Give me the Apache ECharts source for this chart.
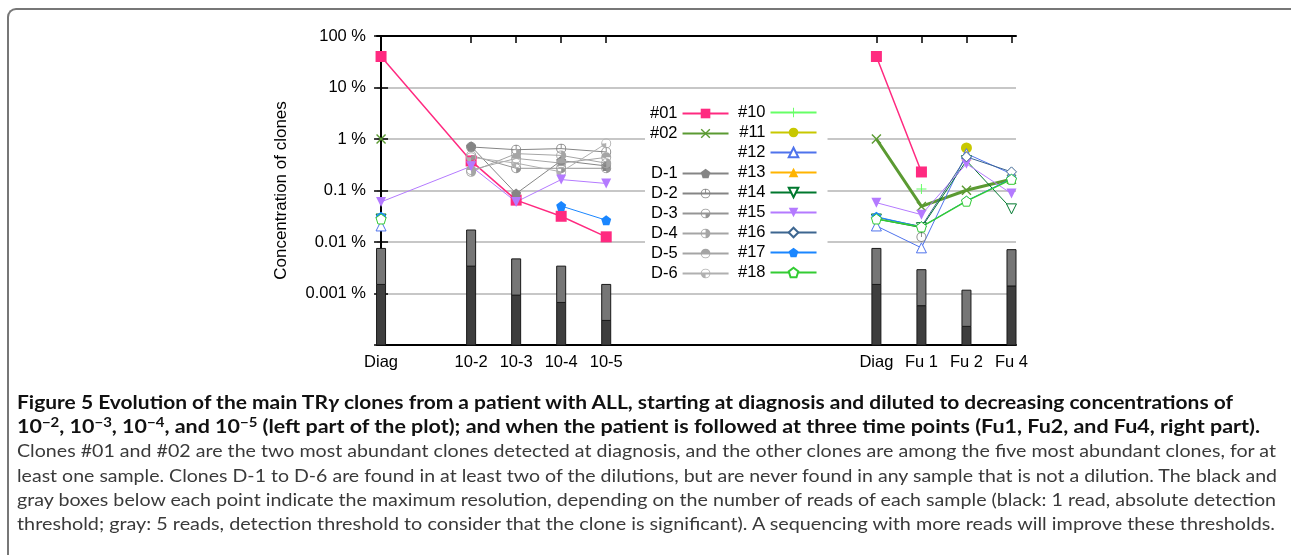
<!DOCTYPE html>
<html>
<head>
<meta charset="utf-8">
<script src="https://cdn.jsdelivr.net/npm/echarts@6/dist/echarts.min.js"></script>
<style>
  html, body { margin:0; padding:0; background:#fff; }
  #wrap { position:relative; width:1291px; height:555px; overflow:hidden; }
  #chart { position:absolute; left:0; top:0; width:1291px; height:555px; }
  #frame { position:absolute; left:7px; top:8px; width:1300px; height:600px;
           border-left:2px solid #777; border-top:2px solid #777; border-top-left-radius:9px; pointer-events:none; }
  .ln { position:absolute; left:17px; white-space:nowrap; font-family:'Lato','Noto Sans',sans-serif;
        font-size:18px; line-height:24px; transform-origin:0 50%; }
  .b { font-weight:bold; color:#111; }
  .r { color:#3a3a3a; }
  sup { font-size:70%; vertical-align:0.45em; line-height:0; }
</style>
</head>
<body>
<div id="wrap">
  <div id="chart"></div>
  <div id="frame"></div>
  <div class="ln b" style="top:390px" data-w="1216"><span>Figure 5</span> Evolution of the main TR<i>γ</i> clones from a patient with ALL, starting at diagnosis and diluted to decreasing concentrations of</div>
  <div class="ln b" style="top:414px" data-w="1243">10<sup>−2</sup>, 10<sup>−3</sup>, 10<sup>−4</sup>, and 10<sup>−5</sup> (left part of the plot); and when the patient is followed at three time points (Fu1, Fu2, and Fu4, right part).</div>
  <div class="ln r" style="top:438px" data-w="1259">Clones #01 and #02 are the two most abundant clones detected at diagnosis, and the other clones are among the five most abundant clones, for at</div>
  <div class="ln r" style="top:463px" data-w="1260">least one sample. Clones D-1 to D-6 are found in at least two of the dilutions, but are never found in any sample that is not a dilution. The black and</div>
  <div class="ln r" style="top:487px" data-w="1259">gray boxes below each point indicate the maximum resolution, depending on the number of reads of each sample (black: 1 read, absolute detection</div>
  <div class="ln r" style="top:511px" data-w="1258">threshold; gray: 5 reads, detection threshold to consider that the clone is significant). A sequencing with more reads will improve these thresholds.</div>
</div>
<script>
// ---------- data ----------
const categories = ['Diag', '10-2', '10-3', '10-4', '10-5', 'Diag', 'Fu 1', 'Fu 2', 'Fu 4'];
const xPositions = [0, 2, 3, 4, 5, 11, 12, 13, 14];
const yTickValues = [100, 10, 1, 0.1, 0.01, 0.001, 0.0001];
const yTickLabels = ['100 %', '10 %', '1 %', '0.1 %', '0.01 %', '0.001 %', ''];

// detection thresholds (% of reads)
const oneRead   = [0.0015, 0.0034, 0.00093, 0.00067, 0.0003, 0.0015, 0.00058, 0.00023, 0.0014];
const fiveReads = [0.0075, 0.0171, 0.0047, 0.0034, 0.0015, 0.0075, 0.0029, 0.00116, 0.0071];

// clone concentrations (%), per category
const c01 = [40, 0.375, 0.065, 0.0316, 0.0126, 40, 0.229, null, null];
const c02 = [1.0, null, null, null, null, 1.0, 0.049, 0.101, 0.165];
const d1  = [null, 0.72, 0.087, 0.38, 0.30, null, null, null, null];
const d2  = [null, 0.70, 0.62, 0.65, 0.56, null, 0.0125, null, null];
const d3  = [null, 0.48, 0.27, 0.27, 0.27, null, null, null, null];
const d4  = [null, 0.23, 0.52, 0.48, 0.34, null, null, null, null];
const d5  = [null, 0.25, 0.42, 0.34, 0.44, null, null, null, null];
const d6  = [null, 0.44, 0.34, 0.23, 0.82, null, null, null, null];
const c10 = [null, null, null, null, null, null, 0.107, null, null];
const c11 = [null, null, null, null, null, null, null, 0.67, null];
const c12 = [0.0205, null, null, null, null, 0.0205, 0.0077, 0.52, 0.21];
const c13 = [null, null, null, null, null, null, null, 0.48, null];
const c14 = [0.028, null, null, null, null, 0.028, 0.019, 0.38, 0.044];
const c15 = [0.06, 0.295, 0.06, 0.163, 0.137, 0.058, 0.034, 0.33, 0.087];
const c16 = [0.03, null, null, null, null, 0.03, 0.02, 0.45, 0.23];
const c17 = [0.031, null, null, 0.05, 0.0265, 0.031, 0.0196, 0.063, 0.17];
const c18 = [0.028, null, null, null, null, 0.028, 0.0196, 0.062, 0.165];

// ---------- symbols ----------
const RING = 'M0,10 A10,10 0 1,1 20,10 A10,10 0 1,1 0,10 Z M1.8,10 A8.2,8.2 0 1,0 18.2,10 A8.2,8.2 0 1,0 1.8,10 Z ';
const SYM = {
  x: 'path://M0,2 L2,0 L10,8 L18,0 L20,2 L12,10 L20,18 L18,20 L10,12 L2,20 L0,18 L8,10 Z',
  plus: 'path://M9,0 L11,0 L11,9 L20,9 L20,11 L11,11 L11,20 L9,20 L9,11 L0,11 L0,9 L9,9 Z',
  pent: 'path://M10,0 L19.51,6.91 L15.88,18.09 L4.12,18.09 L0.49,6.91 Z',
  down: 'path://M0,0 L20,0 L10,17 Z',
  d2: 'path://' + RING + 'M9.1,1 L10.9,1 L10.9,10 L9.1,10 Z',
  d3: 'path://' + RING + 'M10,10 L20,10 A10,10 0 0,1 10,20 Z',
  d4: 'path://' + RING + 'M10,0 A10,10 0 0,1 10,20 Z',
  d5: 'path://' + RING + 'M0,10 A10,10 0 0,1 20,10 Z',
  d6: 'path://' + RING + 'M10,10 L10,20 A10,10 0 0,1 0,10 Z'
};

function toData(vals) {
  const out = [];
  vals.forEach(function (v, i) {
    if (i === 5) out.push([8, '-']);
    out.push([xPositions[i], v == null ? '-' : v]);
  });
  return out;
}

function lineSeries(name, vals, color, symbol, size, lw, open) {
  return {
    name: name, type: 'line', data: toData(vals), connectNulls: false,
    symbol: symbol, symbolSize: size, showSymbol: true, z: 3,
    lineStyle: { color: color, width: lw },
    itemStyle: open ? { color: '#fff', borderColor: color, borderWidth: 1 } : { color: color },
    emphasis: { disabled: true }, animation: false
  };
}

const series = [
  {
    type: 'custom', name: 'thresholds', z: 1, animation: false, silent: true,
    data: xPositions.map(function (x, i) { return [x, oneRead[i], fiveReads[i]]; }),
    encode: { x: 0, y: [1, 2] },
    renderItem: function (params, api) {
      const x = api.value(0), lo = api.value(1), hi = api.value(2);
      const base = api.coord([x - 0.1, 0.0001]);
      const p1 = api.coord([x + 0.1, lo]);
      const p2 = api.coord([x + 0.1, hi]);
      const w = p1[0] - base[0];
      return { type: 'group', children: [
        { type: 'rect', shape: { x: base[0], y: p1[1], width: w, height: base[1] - p1[1] },
          style: { fill: '#3e3e3e', stroke: '#1a1a1a', lineWidth: 1 } },
        { type: 'rect', shape: { x: base[0], y: p2[1], width: w, height: p1[1] - p2[1] },
          style: { fill: '#767676', stroke: '#1a1a1a', lineWidth: 1 } }
      ]};
    }
  },
  lineSeries('#01', c01, '#ff2a80', 'rect', 11, 1.5, false),
  lineSeries('#02', c02, '#5b9a32', SYM.x, 10, 3, false),
  lineSeries('D-1', d1, '#858585', SYM.pent, 10, 1, false),
  lineSeries('D-2', d2, '#858585', SYM.d2, 10, 1, false),
  lineSeries('D-3', d3, '#959595', SYM.d3, 10, 1, false),
  lineSeries('D-4', d4, '#a5a5a5', SYM.d4, 10, 1, false),
  lineSeries('D-5', d5, '#a5a5a5', SYM.d5, 10, 1, false),
  lineSeries('D-6', d6, '#b0b0b0', SYM.d6, 10, 1, false),
  lineSeries('#10', c10, '#66ff66', SYM.plus, 10, 1.5, false),
  lineSeries('#11', c11, '#c8c800', 'circle', 11, 1.5, false),
  lineSeries('#12', c12, '#4f73ec', 'triangle', 10, 1, true),
  lineSeries('#13', c13, '#ffb400', 'triangle', 10, 1, false),
  lineSeries('#14', c14, '#00782e', SYM.down, 10, 1, true),
  lineSeries('#15', c15, '#b47aff', SYM.down, 10, 1, false),
  lineSeries('#16', c16, '#3d6690', 'diamond', 10, 1, true),
  lineSeries('#17', c17, '#1a86ff', SYM.pent, 10, 1, false),
  lineSeries('#18', c18, '#33cc33', SYM.pent, 10, 1.5, true)
];

function yLabel(v) {
  const e = Math.round(Math.log10(v));
  for (let i = 0; i < yTickValues.length; i++) {
    if (Math.round(Math.log10(yTickValues[i])) === e) return yTickLabels[i];
  }
  return '';
}

const legendBase = {
  orient: 'vertical', align: 'right', selectedMode: false,
  itemWidth: 46, itemHeight: 12, itemGap: 3,
  textStyle: { fontFamily: 'Liberation Sans', fontSize: 16.5, color: '#000' }
};

const option = {
  backgroundColor: 'transparent',
  animation: false,
  grid: { left: 377, right: 275, top: 36, bottom: 210 },
  xAxis: [
    {
      type: 'value', min: -0.09, max: 14.1, position: 'bottom',
      axisLine: { lineStyle: { color: '#000', width: 2 } },
      axisTick: { show: true, inside: true, length: 7, customValues: xPositions, lineStyle: { color: '#000', width: 1.5 } },
      axisLabel: {
        customValues: xPositions, margin: 9, color: '#000', fontSize: 16.5, fontFamily: 'Liberation Sans',
        formatter: function (v) { const i = xPositions.indexOf(Math.round(v)); return i >= 0 ? categories[i] : ''; }
      },
      splitLine: { show: false }
    },
    {
      type: 'value', min: -0.09, max: 14.1, position: 'top',
      axisLine: { lineStyle: { color: '#000', width: 2 } },
      axisTick: { show: true, inside: true, length: 7, customValues: xPositions, lineStyle: { color: '#000', width: 1.5 } },
      axisLabel: { show: false },
      splitLine: { show: false }
    }
  ],
  yAxis: [
    {
      type: 'log', logBase: 10, min: 0.0001, max: 100, splitNumber: 6, position: 'left',
      name: 'Concentration of clones', nameLocation: 'middle', nameRotate: 90, nameGap: 87,
      nameTextStyle: { fontFamily: 'Liberation Sans', fontSize: 17, color: '#000' },
      axisLine: { show: true, lineStyle: { color: '#000', width: 2 } },
      axisTick: { show: true, inside: true, length: 7, lineStyle: { color: '#000', width: 1.5 } },
      minorTick: { show: false },
      axisLabel: { color: '#000', fontSize: 16.5, fontFamily: 'Liberation Sans', margin: 11, formatter: yLabel },
      splitLine: { show: true, lineStyle: { color: '#b5b5b5', width: 1.5 } }
    },
    {
      type: 'log', logBase: 10, min: 0.0001, max: 100, splitNumber: 6, position: 'right',
      axisLine: { show: true, lineStyle: { color: '#000', width: 2 } },
      axisTick: { show: true, inside: true, length: 7, lineStyle: { color: '#000', width: 1.5 } },
      axisLabel: { show: false },
      splitLine: { show: false }
    }
  ],
  legend: [
    Object.assign({}, legendBase, { data: ['#01', '#02'], left: 645, top: 100, z: 6 }),
    Object.assign({}, legendBase, { data: ['D-1', 'D-2', 'D-3', 'D-4', 'D-5', 'D-6'], left: 646, top: 160, z: 6 }),
    Object.assign({}, legendBase, {
      data: ['#10', '#11', '#12', '#13', '#14', '#15', '#16', '#17', '#18'],
      left: 645, top: 95, z: 4, backgroundColor: '#fff', padding: [9, 10, 6, 93]
    })
  ],
  series: series
};

const chart = echarts.init(document.getElementById('chart'), null, { renderer: 'canvas' });
chart.setOption(option);

function fitLines() {
  document.querySelectorAll('.ln').forEach(function (el) {
    el.style.transform = 'none';
    const w = el.getBoundingClientRect().width;
    const t = parseFloat(el.getAttribute('data-w'));
    if (w > 0) el.style.transform = 'scaleX(' + (t / w) + ')';
  });
}
fitLines();
if (document.fonts && document.fonts.ready) document.fonts.ready.then(fitLines);
</script>
</body>
</html>
